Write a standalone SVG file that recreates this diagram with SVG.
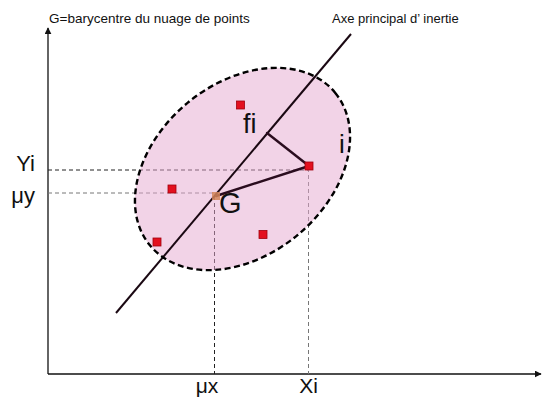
<svg xmlns="http://www.w3.org/2000/svg" width="542" height="399" viewBox="0 0 542 399">
<style>
text{font-family:"Liberation Sans",Arial,sans-serif;fill:#111}
.guide{stroke:#222;stroke-width:1;stroke-dasharray:4 3;fill:none}
.guide2{stroke:#777;stroke-width:1;stroke-dasharray:4 3;fill:none}
.pt{fill:#e3101f;stroke:#a0000e;stroke-width:0.8}
.axis{stroke:#111;stroke-width:1.3;fill:none}
.dark{stroke:#2a0c1e;stroke-width:2.4;fill:none;stroke-linecap:round}
</style>
<defs>
<marker id="arr" viewBox="0 0 10 10" refX="9" refY="5" markerWidth="7" markerHeight="7" orient="auto" markerUnits="userSpaceOnUse">
<path d="M0,0 L10,5 L0,10 z" fill="#111"/>
</marker>
</defs>
<g id="connectors">
<line class="axis" x1="48" y1="374" x2="48" y2="28" marker-end="url(#arr)"/>
<line class="axis" x1="48" y1="374" x2="541" y2="374" marker-end="url(#arr)"/>
<line class="guide" x1="48" y1="170" x2="309" y2="170"/>
<line class="guide2" x1="48" y1="193" x2="216" y2="193"/>
<line class="guide" x1="214.5" y1="196" x2="214.5" y2="374"/>
<line class="guide2" x1="308.5" y1="168" x2="308.5" y2="374"/>
</g>
<g id="cloud">
<ellipse cx="242.5" cy="169" rx="120" ry="86" transform="rotate(-39.5 242.5 169)" fill="#e6a8d0" fill-opacity="0.5"/>
</g>
<g id="principal-axis">
<line x1="116" y1="313" x2="351" y2="34" stroke="#1a0812" stroke-width="2"/>
</g>
<g id="points">
<rect class="pt" x="236.5" y="101" width="8" height="8"/>
<rect class="pt" x="168" y="185" width="8" height="8"/>
<rect class="pt" x="259" y="230.5" width="8" height="8"/>
<rect class="pt" x="153" y="238" width="8" height="8"/>
</g>
<g id="ellipse-outline">
<ellipse cx="242.5" cy="169" rx="120" ry="86" transform="rotate(-39.5 242.5 169)" fill="none" stroke="#000" stroke-width="2.4" stroke-dasharray="6 3.5"/>
</g>
<g id="projection">
<line class="dark" x1="216" y1="196" x2="309" y2="166"/>
<line class="dark" x1="309" y1="166" x2="267" y2="133"/>
</g>
<g id="point-i">
<rect class="pt" x="305" y="162" width="8" height="8"/>
<text x="342" y="153" font-size="26" text-anchor="middle">i</text>
</g>
<g id="point-G">
<rect x="212" y="192" width="8" height="8" fill="#d4855a" fill-opacity="0.85"/>
<text x="219" y="213" font-size="29">G</text>
</g>
<g id="point-fi">
<text x="243" y="133" font-size="27">fi</text>
</g>
<g id="labels">
<text x="49" y="23" font-size="13.5">G=barycentre du nuage de points</text>
<text x="332" y="23" font-size="13">Axe principal d’ inertie</text>
<text x="35" y="171" font-size="22" text-anchor="end">Yi</text>
<text x="35" y="203" font-size="22" text-anchor="end">μy</text>
<text x="207" y="393" font-size="21" text-anchor="middle">μx</text>
<text x="308.5" y="393" font-size="21" text-anchor="middle">Xi</text>
</g>
</svg>
